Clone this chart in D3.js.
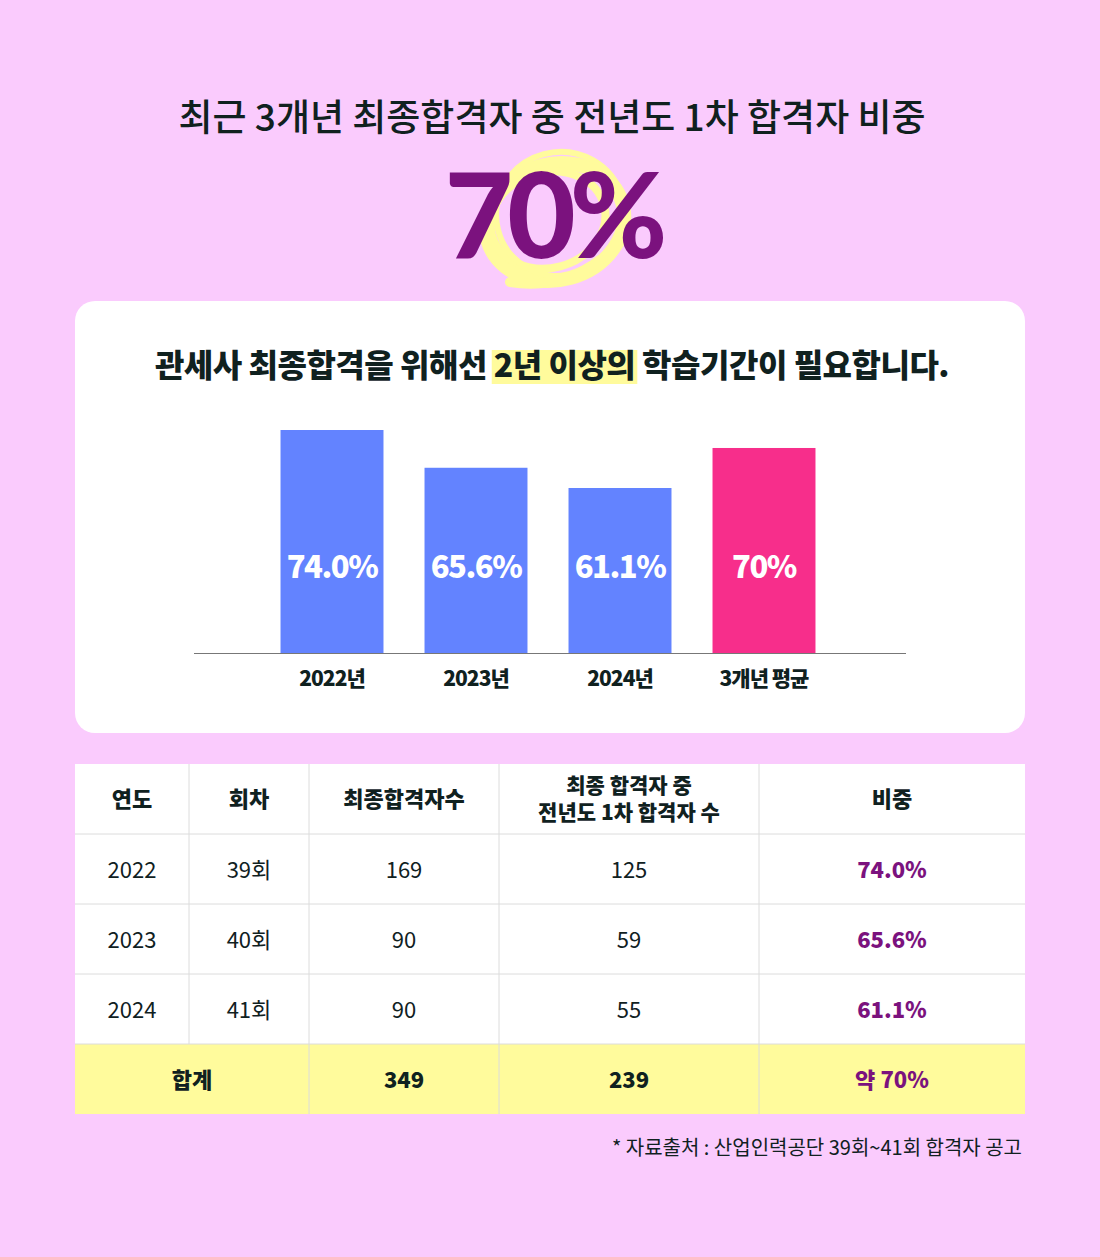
<!DOCTYPE html>
<html><head><meta charset="utf-8">
<script src="https://cdn.jsdelivr.net/npm/d3@7"></script>
<style>body{margin:0;background:#facbfd}svg{display:block;font-family:"Noto Sans CJK KR","Noto Sans",sans-serif}</style>
</head><body><svg width="1100" height="1257"></svg>
<script>
const categories = ["2022년", "2023년", "2024년", "3개년 평균"];
const shares = [74.0, 65.6, 61.1, 70];
const shareLabels = ["74.0%", "65.6%", "61.1%", "70%"];
const years = ["2022", "2023", "2024"];
const rounds = ["39회", "40회", "41회"];
const finalPass = [169, 90, 90];
const prevFirst = [125, 59, 55];
const ratioLabels = ["74.0%", "65.6%", "61.1%"];
const totals = ["합계", "349", "239", "약 70%"];

const dark = "#10211f", purple = "#7b127e", blue = "#6383ff", pink = "#f72e8b", yellow = "#fffb9c";
const svg = d3.select("svg");

// Title
svg.append("text").attr("x", 552).attr("y", 131).attr("text-anchor", "middle")
  .attr("font-size", 37).attr("font-weight", 500).attr("fill", dark)
  .text("최근 3개년 최종합격자 중 전년도 1차 합격자 비중");

// scribble behind big number
const scrib = svg.append("g").attr("fill", "none").attr("stroke", yellow).attr("stroke-linecap", "round");
[[555, 222, 70, 58, 14], [548, 220, 58, 48, 8], [560, 214, 64, 62, 6]].forEach(([cx, cy, rx, ry, w]) =>
  scrib.append("ellipse").attr("cx", cx).attr("cy", cy).attr("rx", rx).attr("ry", ry).attr("stroke-width", w).attr("transform", `rotate(-15 ${cx} ${cy})`));
scrib.append("path").attr("d", "M510 282 Q560 290 600 260").attr("stroke-width", 10);
svg.append("text").attr("x", 553).attr("y", 258).attr("text-anchor", "middle")
  .attr("font-size", 118).attr("font-weight", 900).attr("letter-spacing", -6).attr("fill", purple)
  .attr("font-family", "Lato, sans-serif").text("70%");

// Card
svg.append("rect").attr("x", 75).attr("y", 301).attr("width", 950).attr("height", 432).attr("rx", 20).attr("fill", "#fff");
const hl = svg.append("rect").attr("y", 350).attr("height", 34).attr("fill", yellow);
const sub = svg.append("text").attr("x", 552).attr("y", 377).attr("text-anchor", "middle")
  .attr("font-size", 32).attr("font-weight", 900).attr("letter-spacing", -0.5).attr("fill", dark);
sub.append("tspan").text("관세사 최종합격을 위해선 ");
const mid = sub.append("tspan").text("2년 이상의");
sub.append("tspan").text(" 학습기간이 필요합니다.");
const total = sub.node().getComputedTextLength();
const pre = sub.node().getSubStringLength(0, 14);
const mw = mid.node().getComputedTextLength();
hl.attr("x", 552 - total / 2 + pre - 2).attr("width", mw + 4);

// Bars
const x = d3.scaleBand().domain(categories).range([260, 836]).paddingInner(0.285).paddingOuter(0.1425);
const y = d3.scaleLinear().domain([24.4, 74]).range([653, 430]);
svg.selectAll(".bar").data(shares).join("rect")
  .attr("x", (d, i) => x(categories[i])).attr("width", x.bandwidth())
  .attr("y", d => y(d)).attr("height", d => 653 - y(d))
  .attr("fill", (d, i) => i === 3 ? pink : blue);
svg.selectAll(".bl").data(shareLabels).join("text")
  .attr("x", (d, i) => x(categories[i]) + x.bandwidth() / 2).attr("y", 578)
  .attr("text-anchor", "middle").attr("font-size", 31).attr("font-weight", 900).attr("letter-spacing", -1.5)
  .attr("fill", "#fff").text(d => d);
const axis = svg.append("g").attr("transform", "translate(0,653)")
  .call(d3.axisBottom(x).tickSize(0).tickPadding(18));
axis.select(".domain").attr("d", "M194,0.5H906").attr("stroke", "#777");
axis.selectAll("text").attr("font-size", 21).attr("font-weight", 900).attr("fill", dark)
  .attr("font-family", "Noto Sans CJK KR").attr("letter-spacing", -1);

// Table
const cols = [75, 189, 309, 499, 759, 1025];
const rowsY = [764, 834, 904, 974, 1044, 1114];
const cx = i => (cols[i] + cols[i + 1]) / 2;
const line = "#dcdcdc";
svg.append("rect").attr("x", 75).attr("y", 764).attr("width", 950).attr("height", 280).attr("fill", "#fff");
svg.append("rect").attr("x", 75).attr("y", 1044).attr("width", 950).attr("height", 70).attr("fill", yellow);
rowsY.slice(1, 5).forEach(yy => svg.append("line").attr("x1", 75).attr("x2", 1025).attr("y1", yy).attr("y2", yy).attr("stroke", line));
cols.slice(1, 5).forEach((xx, i) => svg.append("line").attr("x1", xx).attr("x2", xx).attr("y1", 764).attr("y2", i === 0 ? 1044 : 1114).attr("stroke", line));

const hdr = ["연도", "회차", "최종합격자수", null, "비중"];
hdr.forEach((h, i) => {
  if (h) svg.append("text").attr("x", cx(i)).attr("y", 807).attr("text-anchor", "middle")
    .attr("font-size", 22).attr("font-weight", 900).attr("fill", dark).text(h);
});
["최종 합격자 중", "전년도 1차 합격자 수"].forEach((t, k) =>
  svg.append("text").attr("x", cx(3)).attr("y", 793 + k * 27).attr("text-anchor", "middle")
    .attr("font-size", 21).attr("font-weight", 900).attr("fill", dark).text(t));

years.forEach((yr, r) => {
  const yy = rowsY[r + 1] + 44;
  [yr, rounds[r], finalPass[r], prevFirst[r]].forEach((v, i) =>
    svg.append("text").attr("x", cx(i)).attr("y", yy).attr("text-anchor", "middle")
      .attr("font-size", 22).attr("font-weight", 400).attr("fill", dark).text(v));
  svg.append("text").attr("x", cx(4)).attr("y", yy).attr("text-anchor", "middle")
    .attr("font-size", 22).attr("font-weight", 900).attr("fill", purple).text(ratioLabels[r]);
});
const tx = [(75 + 309) / 2, cx(2), cx(3), cx(4)];
totals.forEach((t, i) => svg.append("text").attr("x", tx[i]).attr("y", 1088).attr("text-anchor", "middle")
  .attr("font-size", 22).attr("font-weight", 900).attr("fill", i === 3 ? purple : dark).text(t));

svg.append("text").attr("x", 1022).attr("y", 1155).attr("text-anchor", "end")
  .attr("font-size", 20).attr("fill", dark).text("* 자료출처 : 산업인력공단 39회~41회 합격자 공고");
</script></body></html>
